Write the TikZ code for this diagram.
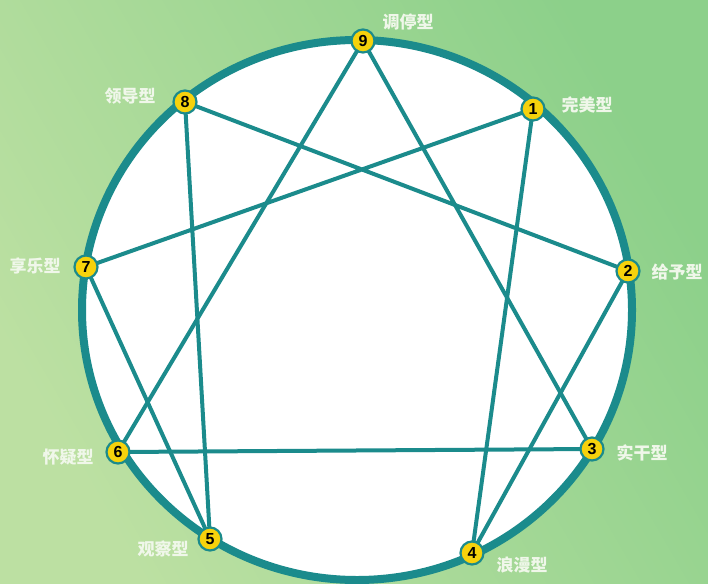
\documentclass[tikz,border=0pt]{standalone}
\usepackage{fontspec}
\setmainfont{Liberation Sans}
\newfontfamily\cjk{Noto Sans CJK SC}
\definecolor{teal1}{HTML}{1B8B8C}
\definecolor{bgA}{HTML}{BCE0A2}
\definecolor{bgB}{HTML}{8CD08A}
\definecolor{dotY}{HTML}{F6D20C}
\definecolor{lbl}{HTML}{F0F7EA}
\begin{document}
\begin{tikzpicture}[x=1pt,y=-1pt,
  pt/.style={circle,draw=teal1,line width=2.2pt,fill=dotY,minimum size=23pt,inner sep=0pt,font=\fontsize{16}{16}\selectfont\bfseries},
  lab/.style={text=lbl,font=\cjk\fontsize{17}{17}\selectfont\bfseries},
  link/.style={draw=teal1,line width=4pt}]
\shade[left color=bgA,right color=bgB,shading angle=120] (0,0) rectangle (708,583);
\useasboundingbox (0,0) rectangle (708,583);
\fill[white] (357,310) ellipse [x radius=275, y radius=270];
% lines
\coordinate (c9) at (363,41);
\coordinate (c1) at (533,109);
\coordinate (c2) at (628,271);
\coordinate (c3) at (592,449);
\coordinate (c4) at (472,553);
\coordinate (c5) at (210,539);
\coordinate (c6) at (118,452);
\coordinate (c7) at (86,267);
\coordinate (c8) at (185,102);
\draw[link] (c9) -- (c3) -- (c6) -- cycle;
\draw[link] (c1) -- (c4) -- (c2) -- (c8) -- (c5) -- (c7) -- cycle;
\draw[teal1,line width=8pt] (357,310) ellipse [x radius=275, y radius=270];
\node[pt] (n9) at (c9) {9};
\node[pt] (n1) at (c1) {1};
\node[pt] (n2) at (c2) {2};
\node[pt] (n3) at (c3) {3};
\node[pt] (n4) at (c4) {4};
\node[pt] (n5) at (c5) {5};
\node[pt] (n6) at (c6) {6};
\node[pt] (n7) at (c7) {7};
\node[pt] (n8) at (c8) {8};
\node[lab] (l9) at (408,22) {调停型};
\node[lab] (l8) at (130,96) {领导型};
\node[lab] (l1) at (587,105) {完美型};
\node[lab] (l7) at (35,266) {享乐型};
\node[lab] (l2) at (677,272) {给予型};
\node[lab] (l6) at (68,457) {怀疑型};
\node[lab] (l3) at (642,453) {实干型};
\node[lab] (l5) at (163,549) {观察型};
\node[lab] (l4) at (522,565) {浪漫型};
\end{tikzpicture}
\end{document}
